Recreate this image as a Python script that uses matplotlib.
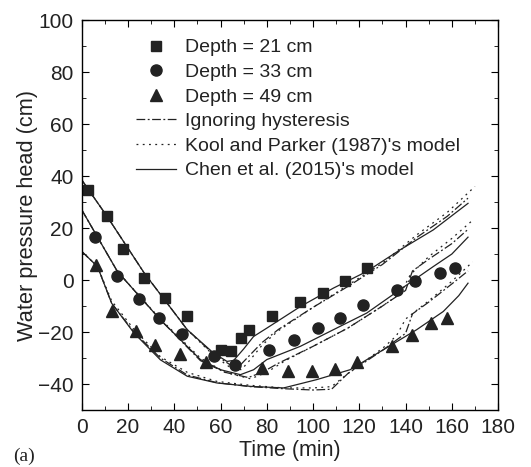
import numpy as np
import matplotlib.pyplot as plt
from matplotlib.ticker import MultipleLocator

plt.rcParams['font.family'] = ['Liberation Sans', 'DejaVu Sans']

# measured data
t21 = [2.9, 11.1, 17.8, 26.9, 36.2, 45.6, 60.0, 64.7, 68.9, 72.2, 82.2, 94.2, 104.2, 113.6, 123.2]
h21 = [34.7, 24.7, 11.9, 0.7, -7.0, -14.0, -26.8, -27.2, -22.3, -19.1, -14.0, -8.6, -4.8, -0.5, 4.6]

t33 = [5.6, 15.4, 24.7, 33.6, 43.4, 57.1, 66.4, 80.8, 91.6, 102.1, 111.7, 121.5, 136.1, 144.0, 155.1, 161.3]
h33 = [16.7, 1.4, -7.3, -14.6, -20.8, -29.1, -32.6, -26.8, -23.0, -18.5, -14.6, -9.5, -4.0, -0.3, 2.9, 4.6]

t49 = [6.3, 12.9, 23.3, 31.5, 42.3, 53.8, 77.9, 89.0, 99.5, 109.5, 119.2, 134.0, 142.6, 151.2, 157.7]
h49 = [5.8, -11.8, -19.7, -24.8, -28.4, -31.6, -33.8, -34.8, -34.8, -34.4, -31.5, -25.5, -21.3, -16.5, -14.6]

# Chen et al. (2015) model
c21_t = [0, 11, 27, 45.6, 57, 62.8, 65.7, 70, 74.3, 80, 94.5, 108.8, 123.2, 137.6, 152, 167]
c21_h = [38.5, 24.4, 2.7, -19.1, -28.1, -31.3, -30.9, -26.5, -21.7, -18.5, -10.2, -3.1, 3.3, 11.6, 19.3, 29.5]
c33_t = [0, 15.4, 34, 51.3, 60, 68.6, 74.3, 80, 94.5, 108.8, 123.2, 137.6, 152, 160, 167]
c33_h = [27, 3.3, -15.3, -30.6, -34.5, -36.4, -34.5, -30.6, -25.5, -19.1, -12.7, -3.7, 5.2, 10.0, 16.5]
c49_t = [0, 6.8, 12.9, 22.6, 34, 45.6, 58.5, 72.9, 87.3, 101.6, 116, 130.4, 144.8, 156.3, 163, 167]
c49_h = [11, 5.2, -8.9, -20.4, -30.7, -37, -39.6, -40.9, -41.5, -38.3, -34.5, -26.8, -19.1, -12.1, -6.0, -1.2]

# ignoring hysteresis
i21_t = [0, 11, 27, 45.6, 57, 64, 68, 72, 78, 85, 100, 115, 130, 145, 158, 167]
i21_h = [38.5, 24.4, 2.7, -19.1, -28.5, -32.5, -33.2, -29.5, -24.0, -19.0, -10.5, -2.5, 6.0, 16.5, 24.5, 31.5]
i33_t = [0, 15.4, 34, 51.3, 62, 72, 78, 85, 100, 115, 130, 140, 143, 150, 160, 167]
i33_h = [27, 3.3, -15.3, -31.0, -35.5, -37.5, -35.5, -32.0, -25.5, -18.5, -10.0, -4.0, 3.5, 8.0, 14.0, 19.5]
i49_t = [0, 6.8, 12.9, 22.6, 34, 45.6, 58.5, 72.9, 87.3, 100, 108, 115, 130.4, 140, 143, 150, 160, 167]
i49_h = [11, 5.2, -8.9, -20.0, -30.0, -36.5, -39.5, -41.0, -41.8, -42.3, -42.0, -36.0, -26.8, -20.5, -13.0, -8.5, -1.5, 3.5]

# Kool and Parker (1987) model
k21_t = [0, 11, 27, 45.6, 57, 64, 69, 73, 78, 85, 100, 115, 130, 145, 158, 170]
k21_h = [38.5, 24.4, 2.7, -19.1, -29.0, -33.5, -34.5, -30.5, -25.0, -19.5, -10.5, -2.0, 6.5, 17.5, 26.0, 36.0]
k33_t = [0, 15.4, 34, 51.3, 62, 73, 80, 88, 100, 115, 130, 138, 142, 150, 160, 169]
k33_h = [27, 3.3, -15.0, -30.0, -35.5, -38.0, -35.5, -31.0, -25.5, -18.5, -10.0, -5.0, 2.0, 9.0, 16.0, 23.0]
k49_t = [0, 6.8, 12.9, 22.6, 34, 45.6, 58.5, 72.9, 87.3, 100, 108, 115, 130.4, 136, 140, 150, 160, 169]
k49_h = [11, 5.2, -8.0, -19.0, -29.5, -35.5, -39.0, -40.5, -41.5, -41.5, -41.0, -36.0, -26.0, -21.5, -15.0, -8.0, -0.5, 7.0]

fig = plt.figure(figsize=(5.31, 4.67), dpi=100)
ax = fig.add_axes([0.154, 0.122, 0.784, 0.835])

lw = 0.9
dashdot = (0, (7, 2, 1.5, 2))
dotted = (0, (1.5, 3.5))

ax.plot(t21, h21, 's', color='#222222', ms=7.5, ls='none', label='Depth = 21 cm')
ax.plot(t33, h33, 'o', color='#222222', ms=8, ls='none', label='Depth = 33 cm')
ax.plot(t49, h49, '^', color='#222222', ms=8.5, ls='none', label='Depth = 49 cm')

for i, (tt, hh) in enumerate([(i21_t, i21_h), (i33_t, i33_h), (i49_t, i49_h)]):
    ax.plot(tt, hh, color='#222222', lw=lw, ls=dashdot,
            label='Ignoring hysteresis' if i == 0 else None)
for i, (tt, hh) in enumerate([(k21_t, k21_h), (k33_t, k33_h), (k49_t, k49_h)]):
    ax.plot(tt, hh, color='#222222', lw=lw, ls=dotted,
            label="Kool and Parker (1987)'s model" if i == 0 else None)
for i, (tt, hh) in enumerate([(c21_t, c21_h), (c33_t, c33_h), (c49_t, c49_h)]):
    ax.plot(tt, hh, color='#222222', lw=lw, ls='-',
            label="Chen et al. (2015)'s model" if i == 0 else None)

ax.set_xlim(0, 180)
ax.set_ylim(-50, 100)
ax.xaxis.set_major_locator(MultipleLocator(20))
ax.xaxis.set_minor_locator(MultipleLocator(10))
ax.yaxis.set_minor_locator(MultipleLocator(10))
ax.set_yticks([-40, -20, 0, 20, 40, 60, 80, 100])
ax.tick_params(which='both', direction='in', top=True, right=True, labelsize=15,
               labelcolor='#222222')
ax.tick_params(which='major', length=5, pad=6)
ax.tick_params(which='minor', length=3)
for s in ax.spines.values():
    s.set_linewidth(1.0)

ax.set_xlabel('Time (min)', fontsize=15.5, labelpad=2, color='#222222')
ax.set_ylabel('Water pressure head (cm)', fontsize=15.7, color='#222222')
ax.yaxis.set_label_coords(-0.106, 0.5)

ax.legend(loc='upper left', bbox_to_anchor=(0.13, 0.952), frameon=False,
          fontsize=14, handlelength=2.05, handletextpad=0.5, labelspacing=0.36,
          borderaxespad=0, borderpad=0, labelcolor='#222222')

fig.text(0.025, 0.012, '(a)', family='Liberation Serif', fontsize=14, color='#222222')

plt.savefig('out.png', dpi=100)
